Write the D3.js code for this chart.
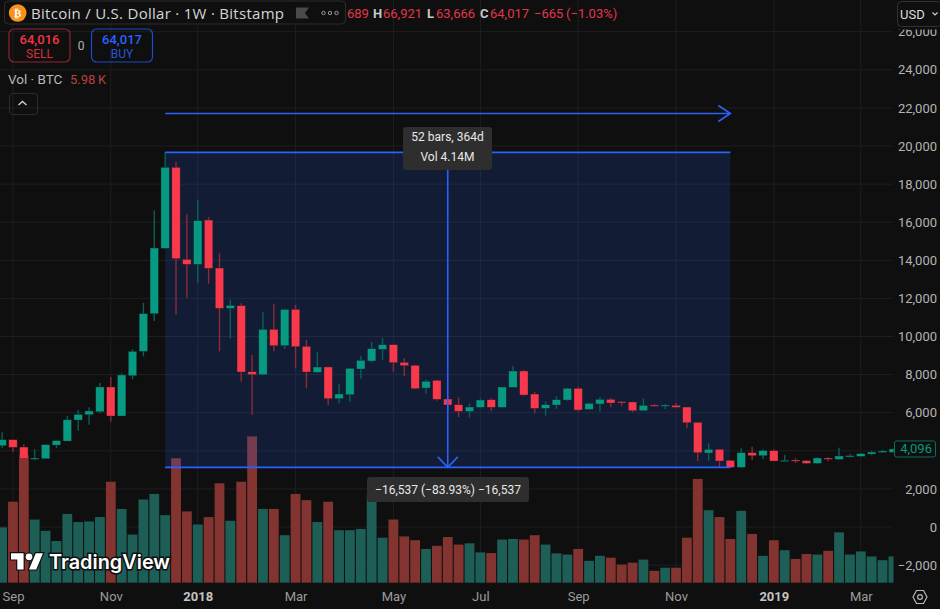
<!DOCTYPE html>
<html lang="en">
<head>
    <meta charset="UTF-8">
    <title>Bitcoin / U.S. Dollar 1W Bitstamp</title>
    <style>
        body { margin: 0; padding: 0; background: #0f0f0f; overflow: hidden; }
        svg { display: block; font-family: Roboto, Arial, sans-serif; }
        .tick line { display: none; }
        .domain { display: none; }
    </style>
</head>
<body>
    <div id="chart"></div>

    <script src="https://cdnjs.cloudflare.com/ajax/libs/d3/7.8.5/d3.min.js"></script>
    <script>
        const width = 940;
        const height = 609;

        // weekly bars
        const open = [4268,4583,4197,3600,3585,4300,4510,5615,5895,6050,7350,5825,7940,9220,11198,14628,18880,14050,13788,16115,13595,11478,11618,8152,7995,10375,9518,11425,9484,8118,8398,6736,6946,8293,8713,9326,9571,8643,8486,7296,7698,6718,6421,6071,6281,6683,6281,7331,8188,6981,6228,6404,6666,7278,6176,6456,6701,6578,6561,6106,6403,6368,6386,6298,5493,3883,4076,3498,3131,3901,3743,4006,3463,3516,3481,3341,3621,3551,3691,3708,3831,3918,3918];
        const high = [4968,4583,4338,4075,4330,4540,5825,6140,6280,7560,7870,8065,9325,11760,16620,19666,19178,16413,17165,16255,14365,11932,11740,9028,11268,11722,11425,11653,9816,9168,8451,7488,8328,8993,9711,9921,9571,8871,8521,7733,7733,6876,6806,6473,6753,6753,7348,8451,8241,7103,6596,6858,7278,7348,6526,6806,6771,6613,6596,6736,6456,6456,6508,6298,5493,4391,4076,3516,4128,4216,4076,4076,3778,3603,3498,3656,3656,4163,3848,3883,4006,4058,4128];
        const low = [4128,3952,2955,3515,3580,4145,4510,5055,5370,5965,5530,5825,7750,8960,10812,14628,11145,12038,12790,12772,9220,9885,7628,5878,7995,9220,9343,8328,7278,8118,6404,6491,6579,7786,8626,8783,8153,7908,7226,7001,6631,6141,5773,5738,6246,6071,6281,7331,6876,5966,5843,6193,6631,6053,6176,6053,6316,6368,6018,6106,6316,6193,6263,5178,3463,3481,3148,3113,3131,3516,3551,3463,3463,3358,3288,3306,3446,3551,3656,3691,3761,3883,3918];
        const close = [4583,4180,3585,3620,4320,4530,5630,5910,6090,7350,5825,7980,9220,11198,14645,18880,14085,13788,16080,13578,11478,11635,8135,7995,10375,9518,11425,9466,8136,8398,6736,6981,8328,8748,9361,9571,8626,8468,7261,7646,6701,6404,6071,6298,6666,6281,7348,8188,6928,6228,6421,6683,7278,6141,6491,6701,6508,6526,6106,6386,6368,6403,6281,5476,3901,4076,3463,3131,3901,3743,4006,3463,3498,3481,3341,3621,3568,3726,3743,3848,3936,3988,4096];
        const volume = [88.5,129.6,204.8,101,83,66.6,110,97,98,105,161.5,118,77,133,142,108,199,114,93,105,159,99,161.5,234,118,118,76,142,132,97,129.5,84,84,86,140,72,101,74,68,54,59,73,61,63,48.5,47.4,69,70,69,76,61,47,45,54,35,43,40,29,32,37,19,24,24,72,166,116,105,70,115,78,43,68,52,38,46,45,51,80.5,45,50,42,36,42];

        const xTickBars = [1,10,18,27,36,44,53,62,71,79];
        const xTickLabels = ["Sep","Nov","2018","Mar","May","Jul","Sep","Nov","2019","Mar"];
        const yTicks = [26000,24000,22000,20000,18000,16000,14000,12000,10000,8000,6000,4000,2000,0,-2000];
        // 4,000 sits behind the last price tag
        const yLabelTicks = yTicks.filter(d => d !== 4000);

        // the measure drawing
        const rangeFirstBar = 15, rangeLastBar = 67;
        const rangeTop = 19666, rangeBottom = 3129;
        const rangeLabelTop = ["52 bars, 364d", "Vol 4.14M"];
        const rangeLabelBottom = "\u221216,537 (\u221283.93%) \u221216,537";
        const lastPrice = 4096;

        // the legend row, cut off on the left by the symbol box
        const legendParts = ["689","H","66,921","L","63,666","C","64,017","\u2212665","(\u22121.03%)"];
        const legendAt = [347,373,383,427,436,480,490,534,566];

        const upColor = "#089981", downColor = "#f7394b";
        const upWick = "#0b5f57", downWick = "#8c2a35";
        const upVol = "#1d5f57", downVol = "#843430";
        const blue = "#2962ff";
        const paneRight = 893.5, paneBottom = 583;

        const x = d3.scaleLinear().domain([0, 82]).range([2.1, 893.4]);
        const y = d3.scaleLinear().domain([0, 26000]).range([527, 31.7]);
        const yVol = d3.scaleLinear().domain([0, 250]).range([582.7, 426.4]);

        const svg = d3.select("#chart").append("svg")
            .attr("width", width).attr("height", height)
            .attr("viewBox", `0 0 ${width} ${height}`);

        svg.append("defs").append("clipPath").attr("id", "pane")
            .append("rect").attr("x", 0).attr("y", 0).attr("width", paneRight).attr("height", paneBottom);

        svg.append("rect").attr("width", width).attr("height", height).attr("fill", "#0f0f0f");

        // grid
        const pane = svg.append("g").attr("clip-path", "url(#pane)");
        pane.selectAll("line.h").data(yTicks).enter().append("line").attr("class", "h")
            .attr("x1", 0).attr("x2", paneRight)
            .attr("y1", d => y(d)).attr("y2", d => y(d))
            .attr("stroke", "#1f1f1f");
        pane.selectAll("line.v").data(xTickBars).enter().append("line").attr("class", "v")
            .attr("x1", d => x(d)).attr("x2", d => x(d))
            .attr("y1", 0).attr("y2", paneBottom)
            .attr("stroke", "#1f1f1f");

        // volume
        pane.selectAll("rect.vol").data(volume).enter().append("rect").attr("class", "vol")
            .attr("x", (d, i) => x(i) - 4.9)
            .attr("width", 9.8)
            .attr("y", d => yVol(d))
            .attr("height", d => yVol(0) - yVol(d))
            .attr("fill", (d, i) => close[i] >= open[i] ? upVol : downVol);

        // blue range box goes over the volume but under the candles
        pane.append("rect")
            .attr("x", x(rangeFirstBar)).attr("width", x(rangeLastBar) - x(rangeFirstBar))
            .attr("y", y(rangeTop)).attr("height", y(rangeBottom) - y(rangeTop))
            .attr("fill", blue).attr("fill-opacity", 0.16);

        // candles
        pane.selectAll("line.wick").data(close).enter().append("line").attr("class", "wick")
            .attr("x1", (d, i) => x(i)).attr("x2", (d, i) => x(i))
            .attr("y1", (d, i) => y(high[i])).attr("y2", (d, i) => y(low[i]))
            .attr("stroke", (d, i) => d >= open[i] ? upWick : downWick)
            .attr("stroke-width", 1.4);
        pane.selectAll("rect.body").data(close).enter().append("rect").attr("class", "body")
            .attr("x", (d, i) => x(i) - 4.2)
            .attr("width", 8.4)
            .attr("y", (d, i) => y(Math.max(d, open[i])))
            .attr("height", (d, i) => Math.max(1.2, Math.abs(y(d) - y(open[i]))))
            .attr("fill", (d, i) => d >= open[i] ? upColor : downColor)
            .attr("stroke", "#0f1a24").attr("stroke-opacity", 0.55).attr("stroke-width", 0.6);

        // measure lines
        const lines = svg.append("g").attr("fill", "none").attr("stroke", blue).attr("stroke-width", 1.6);
        const xa = x(rangeFirstBar), xb = x(rangeLastBar);
        const arrowY = 113.5, xMid = (xa + xb) / 2;
        lines.append("line").attr("x1", xa).attr("x2", xb).attr("y1", arrowY).attr("y2", arrowY);
        lines.append("path").attr("d", `M${xb - 12},${arrowY - 8}L${xb},${arrowY}L${xb - 12},${arrowY + 8}`);
        lines.append("line").attr("x1", xa).attr("x2", xb).attr("y1", y(rangeTop)).attr("y2", y(rangeTop));
        lines.append("line").attr("x1", xa).attr("x2", xb).attr("y1", y(rangeBottom)).attr("y2", y(rangeBottom));
        lines.append("line").attr("x1", xMid).attr("x2", xMid).attr("y1", y(rangeTop)).attr("y2", y(rangeBottom));
        lines.append("path").attr("d", `M${xMid - 10},${y(rangeBottom) - 10.5}L${xMid},${y(rangeBottom)}L${xMid + 10},${y(rangeBottom) - 10.5}`);

        // labels on the measure
        svg.append("rect").attr("x", 403).attr("y", 127).attr("width", 89).attr("height", 43).attr("rx", 3).attr("fill", "#2e2e2e");
        svg.selectAll("text.rl").data(rangeLabelTop).enter().append("text").attr("class", "rl")
            .attr("x", 447.5).attr("y", (d, i) => 141 + i * 20)
            .attr("text-anchor", "middle").attr("font-size", 12).attr("fill", "#e8e8e8").text(d => d);
        svg.append("rect").attr("x", 367).attr("y", 477).attr("width", 162).attr("height", 25).attr("rx", 3).attr("fill", "#2e2e2e");
        svg.append("text").attr("x", 448).attr("y", 493.5).attr("text-anchor", "middle")
            .attr("font-size", 12).attr("fill", "#e8e8e8").text(rangeLabelBottom);

        // axes
        const yAxis = svg.append("g").attr("transform", "translate(900,0)")
            .call(d3.axisRight(y).tickValues(yLabelTicks).tickFormat(d3.format(",")).tickSize(0).tickPadding(0));
        yAxis.selectAll("text").attr("font-size", 13).attr("fill", "#b4b4b4")
            .attr("font-family", "Roboto, Arial, sans-serif");
        yAxis.selectAll("text").attr("text-anchor", "end").attr("x", 37);

        const xAxis = svg.append("g").attr("transform", "translate(0,592)")
            .call(d3.axisBottom(x).tickValues(xTickBars)
                .tickFormat((d, i) => xTickLabels[i]).tickSize(0).tickPadding(0));
        xAxis.selectAll("text").attr("font-size", 13)
            .attr("font-family", "Roboto, Arial, sans-serif")
            .attr("fill", (d, i) => /^\d/.test(xTickLabels[i]) ? "#c4c4c4" : "#9c9c9c")
            .attr("font-weight", (d, i) => /^\d/.test(xTickLabels[i]) ? 700 : 400);

        // last price tag
        svg.append("rect").attr("x", 894.5).attr("y", y(lastPrice) - 8).attr("width", 41).attr("height", 16).attr("rx", 2)
            .attr("fill", "#0f0f0f").attr("stroke", "#0d6b5f");
        svg.append("text").attr("x", 932).attr("y", y(lastPrice) + 4.5).attr("text-anchor", "end")
            .attr("font-size", 13).attr("fill", upColor).text(d3.format(",")(lastPrice));

        // currency button sits over the top axis label and cuts it
        svg.append("rect").attr("x", 894).attr("y", 0).attr("width", 46).attr("height", 29.5).attr("fill", "#0f0f0f");
        svg.append("rect").attr("x", 897.5).attr("y", 1.5).attr("width", 44).attr("height", 25).attr("rx", 4)
            .attr("fill", "#0f0f0f").attr("stroke", "#333");
        svg.append("text").attr("x", 900).attr("y", 19).attr("font-size", 13).attr("fill", "#dcdcdc").text("USD");
        svg.append("path").attr("d", "M932.5,12.5l2.5,2.5l2.5,-2.5").attr("fill", "none").attr("stroke", "#ccc").attr("stroke-width", 1.2);

        // settings icon
        svg.append("path").attr("d", "M913,597l3.5,-6.5h7l3.5,6.5l-3.5,6.5h-7z").attr("fill", "none").attr("stroke", "#b8b8b8").attr("stroke-width", 1.2);
        svg.append("circle").attr("cx", 920).attr("cy", 597).attr("r", 2.4).attr("fill", "none").attr("stroke", "#b8b8b8").attr("stroke-width", 1.2);

        // header
        svg.append("rect").attr("x", 4.5).attr("y", 1).attr("width", 341).attr("height", 23).attr("rx", 4)
            .attr("fill", "#0f0f0f").attr("stroke", "#2c2c2c");
        svg.append("circle").attr("cx", 17.7).attr("cy", 13).attr("r", 8.8).attr("fill", "#f7931a");
        svg.append("text").attr("x", 17.7).attr("y", 17).attr("text-anchor", "middle")
            .attr("font-size", 11).attr("font-weight", 700).attr("font-family", "DejaVu Sans").attr("fill", "#fff").text("\u20bf");
        svg.append("text").attr("x", 31).attr("y", 19).attr("font-size", 15).attr("fill", "#d6d6d6")
            .attr("font-weight", 500).attr("font-family", "Open Sans, sans-serif")
            .attr("textLength", 253).attr("lengthAdjust", "spacing")
            .text("Bitcoin / U.S. Dollar \u00b7 1W \u00b7 Bitstamp");
        svg.append("path").attr("d", "M296,7.5h13l-4,5.5l4,5.5h-13z").attr("fill", "#4a4a4a");
        svg.selectAll("circle.dot").data([323.5, 330, 336.5]).enter().append("circle").attr("class", "dot")
            .attr("cx", d => d).attr("cy", 13).attr("r", 1.7).attr("fill", "none").attr("stroke", "#9a9a9a");

        svg.selectAll("text.legend").data(legendParts).enter().append("text").attr("class", "legend")
            .attr("x", (d, i) => legendAt[i]).attr("y", 18).attr("font-size", 13)
            .attr("fill", d => /^[HLC]$/.test(d) ? "#c8c8c8" : "#e0374a")
            .attr("font-weight", d => /^[HLC]$/.test(d) ? 700 : 400)
            .text(d => d);

        // sell / buy
        svg.append("rect").attr("x", 9).attr("y", 29).attr("width", 61).attr("height", 33).attr("rx", 5)
            .attr("fill", "none").attr("stroke", "#8a2633").attr("stroke-width", 1.2);
        svg.append("text").attr("x", 39.5).attr("y", 43.5).attr("text-anchor", "middle").attr("font-size", 13).attr("font-weight", 500).attr("fill", "#f23645").text("64,016");
        svg.append("text").attr("x", 39.5).attr("y", 57.5).attr("text-anchor", "middle").attr("font-size", 12).attr("fill", "#d8303f").text("SELL");
        svg.append("text").attr("x", 81).attr("y", 49.5).attr("text-anchor", "middle").attr("font-size", 12).attr("fill", "#b4b4b4").text("0");
        svg.append("rect").attr("x", 91.5).attr("y", 29).attr("width", 61).attr("height", 33).attr("rx", 5)
            .attr("fill", "none").attr("stroke", "#1f4ac4").attr("stroke-width", 1.2);
        svg.append("text").attr("x", 122).attr("y", 43.5).attr("text-anchor", "middle").attr("font-size", 13).attr("font-weight", 500).attr("fill", blue).text("64,017");
        svg.append("text").attr("x", 122).attr("y", 57.5).attr("text-anchor", "middle").attr("font-size", 12).attr("fill", "#2456dc").text("BUY");

        svg.append("text").attr("x", 8).attr("y", 84).attr("font-size", 13.5).attr("fill", "#b8b8b8").text("Vol \u00b7 BTC");
        svg.append("text").attr("x", 70).attr("y", 84).attr("font-size", 13).attr("fill", "#b8413f").text("5.98\u2009K");
        svg.append("rect").attr("x", 9.5).attr("y", 93.5).attr("width", 28).attr("height", 21).attr("rx", 3)
            .attr("fill", "none").attr("stroke", "#2c2c2c");
        svg.append("path").attr("d", "M18.5,105l4,-3.5l4,3.5").attr("fill", "none").attr("stroke", "#d0d0d0").attr("stroke-width", 1.4);

        // TradingView mark
        const logo = svg.append("g");
        logo.append("path").attr("transform", "translate(11,549.6) scale(0.9)")
            .attr("d", "M14 22H7V11H0V4h14v18zM28 22h-8l7.5-18h8L28 22z")
            .attr("fill", "#fff").attr("stroke", "#0f0f0f").attr("stroke-width", 2.5).attr("paint-order", "stroke");
        logo.append("circle").attr("cx", 29).attr("cy", 556.8).attr("r", 3.4)
            .attr("fill", "#fff").attr("stroke", "#0f0f0f").attr("stroke-width", 2).attr("paint-order", "stroke");
        logo.append("text").attr("x", 49).attr("y", 568.5).attr("font-size", 20).attr("font-weight", 600)
            .attr("font-family", "Inter, sans-serif").attr("textLength", 121).attr("lengthAdjust", "spacingAndGlyphs")
            .attr("fill", "#fff").attr("stroke", "#0f0f0f").attr("stroke-width", 3).attr("paint-order", "stroke")
            .text("TradingView");
    </script>
</body>
</html>
